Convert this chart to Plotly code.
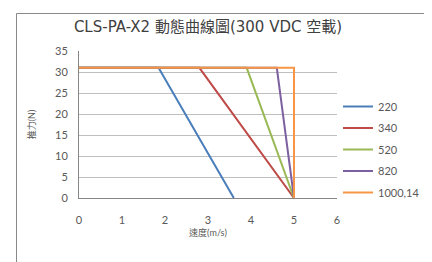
import plotly.graph_objects as go

title = "CLS-PA-X2 動態曲線圖(300 VDC 空載)"
x_title = "速度(m/s)"
y_title = "推力(N)"

series_names = ["220", "340", "520", "820", "1000,14"]
series_x = [
    [0, 1.85, 3.6],
    [0, 2.8, 5.0],
    [0, 3.9, 5.0],
    [0, 4.6, 5.0],
    [0, 5.0, 5.0],
]
series_y = [
    [31, 31, 0],
    [31, 31, 0],
    [31, 31, 0],
    [31, 31, 0],
    [31, 31, 0],
]
colors = ["#4A7EBB", "#BE4B48", "#98B954", "#7D60A0", "#F79646"]

x_ticks = [0, 1, 2, 3, 4, 5, 6]
y_ticks = [0, 5, 10, 15, 20, 25, 30, 35]

FONT = "Lato, 'Noto Sans CJK TC', sans-serif"

# page has an 8px body margin; figure coordinates are shifted accordingly
L, R, T, B = 71, 329, 43, 190
W, H = 432, 262
pw, ph = R - L, B - T

fig = go.Figure()
for name, xs, ys, c in zip(series_names, series_x, series_y, colors):
    fig.add_trace(go.Scatter(x=xs, y=ys, mode="lines", name=name, legendgroup=name,
                             line=dict(color=c, width=2)))

fig.update_layout(
    width=W, height=H,
    margin=dict(l=L, r=W - R, t=T, b=H - B, autoexpand=False),
    paper_bgcolor="white", plot_bgcolor="white",
    font=dict(family=FONT, color="#595959", size=11),
    title=dict(text=title, x=0.5, xref="paper", y=1 - 19 / H, yref="container",
               xanchor="center", yanchor="middle", automargin=False,
               font=dict(size=15, color="#404040", family="'DejaVu Sans', 'Noto Sans CJK TC', sans-serif")),
    legend=dict(x=(330 - L) / pw, xanchor="left", y=(B - 84) / ph,
                yanchor="top", font=dict(size=11, color="#595959"),
                bgcolor="rgba(0,0,0,0)", tracegroupgap=2.5),
    showlegend=True,
)
fig.update_xaxes(range=[0, 6], tickvals=x_ticks, ticks="", showgrid=False,
                 zeroline=False, showline=True, linecolor="#868686", linewidth=1,
                 ticklabelstandoff=12, automargin=False,
                 title=dict(text=x_title, font=dict(size=9, color="#595959"), standoff=4))
fig.update_yaxes(range=[0, 35], tickvals=y_ticks, ticks="", showgrid=True,
                 gridcolor="#BFBFBF", gridwidth=1, zeroline=False,
                 showline=True, linecolor="#868686", linewidth=1,
                 ticklabelstandoff=8, automargin=False,
                 title=dict(text=y_title, font=dict(size=9, color="#595959"), standoff=17))
fig.add_shape(type="rect", xref="paper", yref="paper",
              x0=(8.5 - L) / pw, x1=(W + 5 - L) / pw,
              y0=-(H + 5 - B) / ph, y1=1 + (T - 5.5) / ph,
              line=dict(color="#898989", width=1), fillcolor="rgba(0,0,0,0)", layer="above")

fig.write_html("out.html")
